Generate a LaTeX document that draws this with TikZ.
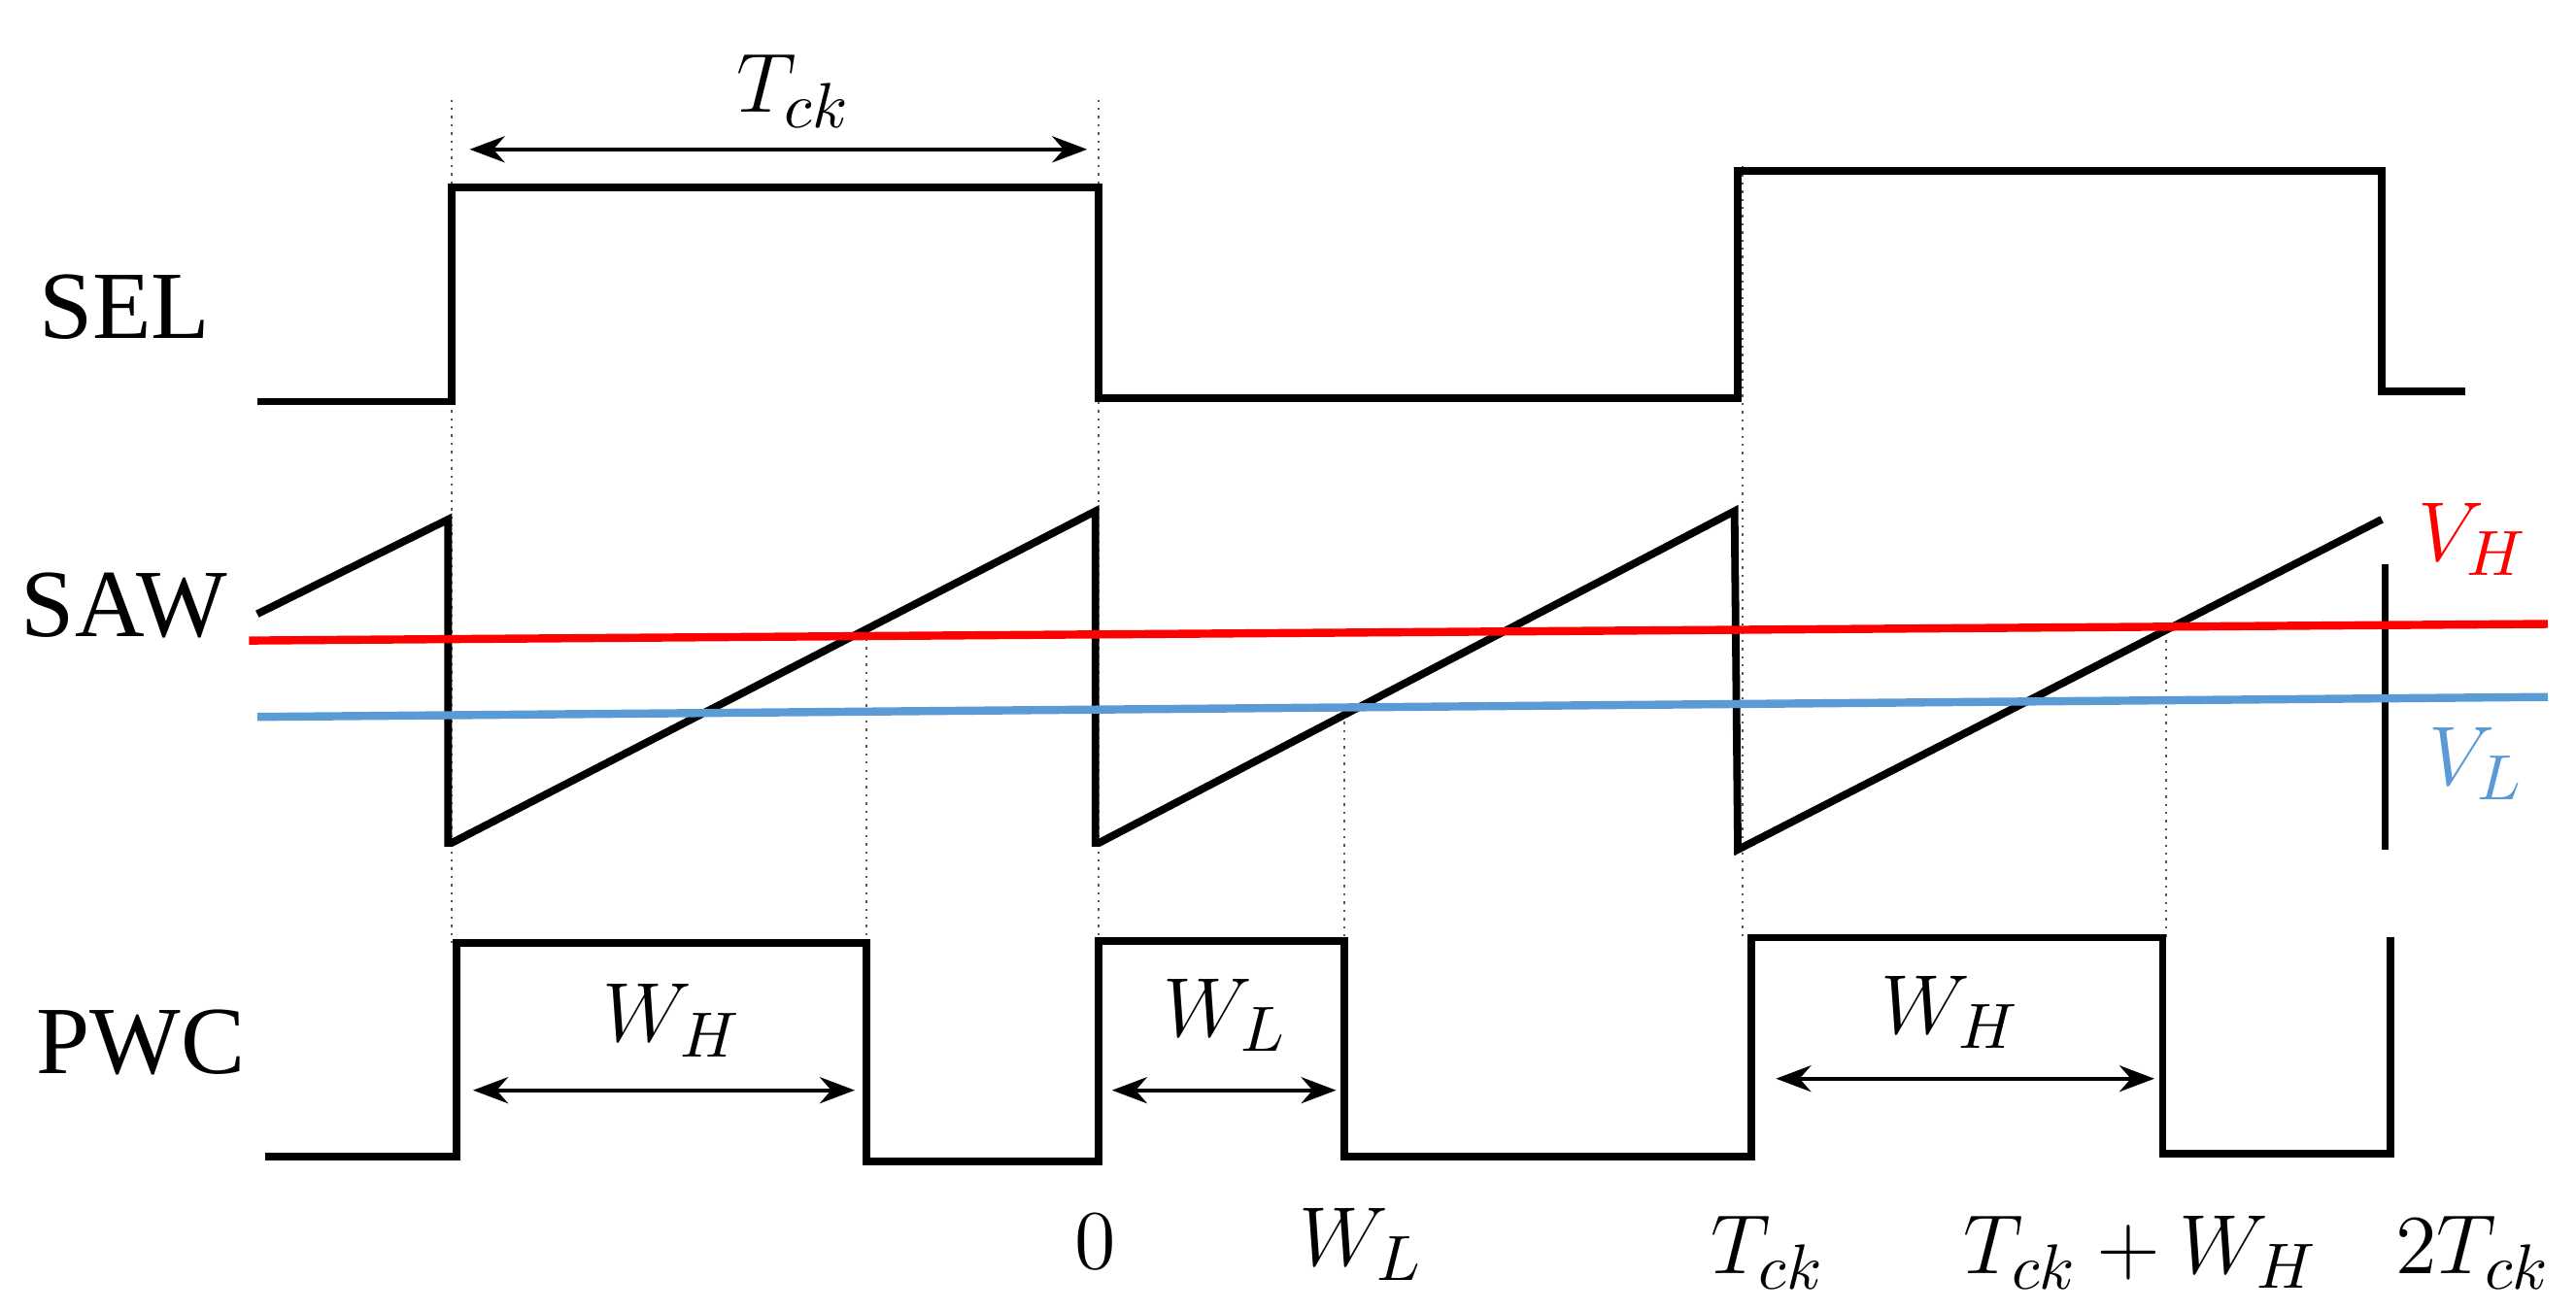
\documentclass[tikz,border=0pt]{standalone}
\usepackage{fontspec}
\setmainfont{Liberation Serif}
\usetikzlibrary{arrows.meta}
\definecolor{vh}{RGB}{255,0,0}
\definecolor{vl}{RGB}{91,155,213}
\begin{document}
\begin{tikzpicture}[x=0.01cm,y=-0.01cm,
  wave/.style={line width=1.3pt,black},
  guide/.style={densely dotted,line width=0.4pt,gray!70!black},
  dim/.style={{Stealth[length=6pt]}-{Stealth[length=6pt]},line width=0.7pt},
  lab/.style={font=\fontsize{16.5}{20}\selectfont},
  mlab/.style={font=\fontsize{15.5}{20}\selectfont}]
\useasboundingbox (0,0) rectangle (1552,790);
% guides
\draw[guide] (272,60) -- (272,570);
\draw[guide] (662,60) -- (662,570);
\draw[guide] (522,385) -- (522,568);
\draw[guide] (810,430) -- (810,567);
\draw[guide] (1050,100) -- (1050,565);
\draw[guide] (1305,376) -- (1305,565);
% SEL
\draw[wave] (155,242) -- (272,242) -- (272,113) -- (662,113) -- (662,240) -- (1047,240) -- (1047,103) -- (1435,103) -- (1435,236) -- (1485,236);
% SAW
\draw[wave] (155,370) -- (270,313) -- (270,508) -- (272,508) -- (660,308) -- (660,508) -- (662,508) -- (1045,308) -- (1047,512) -- (1435,313);
\draw[wave] (1437,340) -- (1437,512);
% thresholds
\draw[vh,line width=1.4pt] (150,386) -- (1535,376);
\draw[vl,line width=1.4pt] (155,432) -- (1535,420);
% PWC
\draw[wave] (160,697) -- (275,697) -- (275,568) -- (522,568) -- (522,700) -- (662,700) -- (662,567) -- (810,567) -- (810,697) -- (1055,697) -- (1055,565) -- (1303,565) -- (1303,695) -- (1440,695) -- (1440,565);
% dims
\coordinate (a1) at (283,90); \coordinate (a2) at (655,90);
\draw[dim] (a1) -- (a2);
\coordinate (b1) at (285,657); \coordinate (b2) at (515,657);
\draw[dim] (b1) -- (b2);
\coordinate (c1) at (670,657); \coordinate (c2) at (805,657);
\draw[dim] (c1) -- (c2);
\coordinate (d1) at (1070,650); \coordinate (d2) at (1298,650);
\draw[dim] (d1) -- (d2);
\node[mlab] (tck) at (478,55) {$T_{ck}$};
\node[mlab] (wh1) at (405,615) {$W_H$};
\node[mlab] (wl1) at (738,612) {$W_L$};
\node[mlab] (wh2) at (1175,610) {$W_H$};
% names
\node[lab] (sel) at (75,185) {SEL};
\node[lab] (saw) at (75,365) {SAW};
\node[lab] (pwc) at (85,628) {PWC};
% axis
\node[mlab] (t0) at (660,748) {$0$};
\node[mlab] (t1) at (820,750) {$W_L$};
\node[mlab] (t2) at (1065,755) {$T_{ck}$};
\node[mlab] (t3) at (1290,755) {$T_{ck}+W_H$};
\node[mlab] (t4) at (1490,755) {$2T_{ck}$};
\node[mlab,text=vh] (vhl) at (1490,325) {$V_H$};
\node[mlab,text=vl] (vll) at (1492,460) {$V_L$};
\end{tikzpicture}
\end{document}
